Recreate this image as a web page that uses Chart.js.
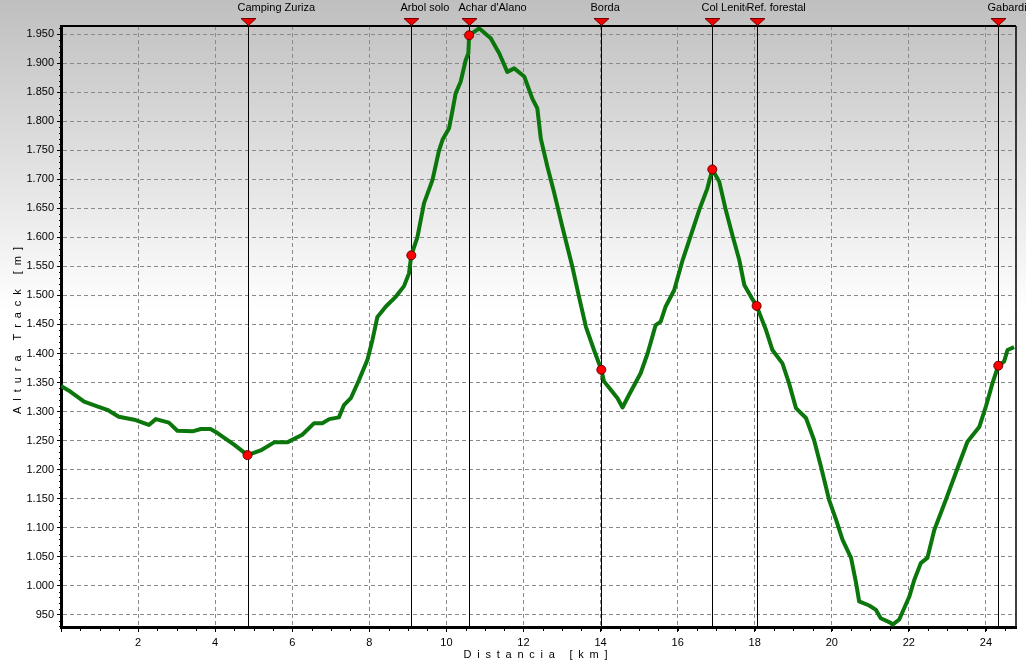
<!DOCTYPE html>
<html>
<head>
<meta charset="utf-8">
<script src="https://cdn.jsdelivr.net/npm/chart.js@4/dist/chart.umd.min.js"></script>
<style>
  html, body { margin: 0; padding: 0; background: #fff; }
  #wrap { width: 1026px; height: 662px; }
</style>
</head>
<body>
<div id="wrap"><canvas id="chart" width="1026" height="662"></canvas></div>
<script>
// ---------------------------------------------------------------------------
// Track profile data (distance in km, elevation in m)
// ---------------------------------------------------------------------------

var distKm = [0.00, 0.25, 0.60, 0.94, 1.20, 1.50, 1.90, 2.28, 2.46, 2.80, 3.02, 3.41, 3.63, 3.88, 4.06, 4.49, 4.84,
  5.18, 5.53, 5.87, 6.26, 6.57, 6.78, 6.96, 7.21, 7.34, 7.52, 7.73, 7.95, 8.08, 8.21, 8.43, 8.69, 8.90, 9.03, 9.09,
  9.25, 9.42, 9.64, 9.81, 9.90, 10.07, 10.16, 10.24, 10.37, 10.50, 10.57, 10.59, 10.85, 11.15, 11.37, 11.58, 11.76,
  12.02, 12.23, 12.36, 12.45, 12.62, 12.80, 13.01, 13.27, 13.44, 13.62, 13.83, 14.02, 14.09, 14.27, 14.44, 14.57,
  14.74, 15.04, 15.22, 15.43, 15.56, 15.69, 15.91, 16.13, 16.30, 16.56, 16.77, 16.90, 17.08, 17.25, 17.42, 17.60,
  17.73, 17.90, 18.05, 18.29, 18.46, 18.72, 18.89, 19.07, 19.33, 19.54, 19.72, 19.93, 20.11, 20.28, 20.50, 20.63,
  20.71, 20.97, 21.14, 21.27, 21.53, 21.58, 21.75, 22.01, 22.14, 22.31, 22.48, 22.66, 22.96, 23.31, 23.52, 23.83,
  24.00, 24.17, 24.32, 24.47, 24.56, 24.73];

var elevM = [1344, 1334, 1317, 1309, 1303, 1291, 1286, 1277, 1287, 1281, 1267, 1266, 1270, 1270, 1263, 1243, 1225,
  1233, 1247, 1247, 1260, 1280, 1280, 1287, 1290, 1311, 1323, 1354, 1389, 1423, 1463, 1481, 1498, 1516, 1538, 1569,
  1601, 1659, 1699, 1750, 1768, 1788, 1819, 1848, 1868, 1905, 1917, 1948, 1960, 1943, 1917, 1885, 1891,
  1877, 1839, 1822, 1770, 1722, 1676, 1618, 1549, 1498, 1446, 1406, 1372, 1352, 1337, 1323, 1307,
  1329, 1366, 1400, 1449, 1455, 1481, 1509, 1561, 1595, 1647, 1684, 1717, 1696, 1647, 1604, 1561,
  1518, 1498, 1482, 1441, 1406, 1383, 1349, 1306, 1289, 1251, 1205, 1148, 1114, 1079, 1048, 1005,
  973, 966, 959, 944, 936, 933, 942, 981, 1010, 1039, 1048, 1096, 1148, 1211, 1248, 1274,
  1309, 1349, 1379, 1386, 1406, 1411];

// Waypoints
var wpNames = ['Camping Zuriza', 'Arbol solo', "Achar d'Alano", 'Borda', 'Col Lenito', 'Ref. forestal', 'Gabardito'];
var wpKm = [4.84, 9.09, 10.59, 14.02, 16.90, 18.05, 24.32];
var wpElev = [1225, 1569, 1948, 1372, 1717, 1482, 1379];

// Axis settings
var xMin = 0, xMax = 24.78, xStep = 2;
var yMin = 929, yMax = 1964, yStep = 50;

var FAMILY = '"Liberation Sans", Arial, sans-serif';
var FONT = '11px ' + FAMILY;

// ---------------------------------------------------------------------------
// Helpers
// ---------------------------------------------------------------------------

function fmtElev(v) {
  if (v >= 1000) {
    return Math.floor(v / 1000) + '.' + String(v % 1000).padStart(3, '0');
  }
  return String(v);
}

var bgGrad = null;
function getBg(ctx, h) {
  if (!bgGrad) {
    bgGrad = ctx.createLinearGradient(0, 0, 0, h);
    bgGrad.addColorStop(0, '#bfbfbf');
    bgGrad.addColorStop(0.47, '#ffffff');
    bgGrad.addColorStop(1, '#ffffff');
  }
  return bgGrad;
}

// draw text with extra space between letters, centred on cx
function spacedText(ctx, txt, cx, cy, extra) {
  var w = 0, i;
  for (i = 0; i < txt.length; i++) w += ctx.measureText(txt[i]).width + extra;
  w -= extra;
  var x = cx - w / 2;
  ctx.textAlign = 'left';
  for (i = 0; i < txt.length; i++) {
    ctx.fillText(txt[i], x, cy);
    x += ctx.measureText(txt[i]).width + extra;
  }
}

// ---------------------------------------------------------------------------
// Plugin: background, borders, waypoint lines/markers, axis titles
// ---------------------------------------------------------------------------

var profilePlugin = {
  id: 'profile',
  beforeDraw: function(chart) {
    var ctx = chart.ctx;
    ctx.save();
    ctx.fillStyle = getBg(ctx, chart.height);
    ctx.fillRect(0, 0, chart.width, chart.height);
    ctx.restore();
  },
  beforeDatasetsDraw: function(chart) {
    var ctx = chart.ctx, a = chart.chartArea, xs = chart.scales.x;
    ctx.save();
    ctx.strokeStyle = '#000';
    ctx.lineWidth = 1;
    wpKm.forEach(function(k) {
      var px = Math.round(xs.getPixelForValue(k)) + 0.5;
      ctx.beginPath();
      ctx.moveTo(px, a.top);
      ctx.lineTo(px, a.bottom);
      ctx.stroke();
    });
    ctx.restore();
  },
  afterDraw: function(chart) {
    var ctx = chart.ctx, a = chart.chartArea, xs = chart.scales.x, ys = chart.scales.y;
    ctx.save();

    // top and right frame
    ctx.strokeStyle = '#000';
    ctx.lineWidth = 2;
    ctx.beginPath();
    ctx.moveTo(a.left, a.top);
    ctx.lineTo(a.right, a.top);
    ctx.stroke();
    ctx.lineWidth = 1.5;
    ctx.beginPath();
    ctx.moveTo(a.right, a.top);
    ctx.lineTo(a.right, a.bottom);
    ctx.stroke();

    // minor ticks: x every 0.5 km, y every 10 m
    ctx.lineWidth = 1;
    for (var k = 0.5; k < xMax; k += 0.5) {
      var mx = Math.round(xs.getPixelForValue(k)) + 0.5;
      ctx.beginPath();
      ctx.moveTo(mx, a.bottom);
      ctx.lineTo(mx, a.bottom + 4);
      ctx.stroke();
    }
    for (var m = 930; m < yMax; m += 10) {
      if (m % 50 === 0) continue;
      var my = Math.round(ys.getPixelForValue(m)) + 0.5;
      ctx.beginPath();
      ctx.moveTo(a.left - 2, my);
      ctx.lineTo(a.left, my);
      ctx.stroke();
    }

    // waypoint labels and triangles
    ctx.font = FONT;
    ctx.textBaseline = 'middle';
    ctx.textAlign = 'left';
    wpKm.forEach(function(k, i) {
      var px = Math.round(xs.getPixelForValue(k)) + 0.5;
      var tx = px - 11;
      var w = ctx.measureText(wpNames[i]).width;
      ctx.fillStyle = getBg(ctx, chart.height);
      ctx.fillRect(tx, 1, w + 2, 13);
      ctx.fillStyle = '#000';
      ctx.fillText(wpNames[i], tx, 7.5);

      ctx.beginPath();
      ctx.moveTo(px - 7.5, 18.5);
      ctx.lineTo(px + 7.5, 18.5);
      ctx.lineTo(px, a.top - 0.5);
      ctx.closePath();
      ctx.fillStyle = '#ee0000';
      ctx.fill();
      ctx.strokeStyle = '#700000';
      ctx.lineWidth = 1;
      ctx.stroke();
    });

    // axis titles
    ctx.fillStyle = '#000';
    spacedText(ctx, 'D i s t a n c i a   [ k m ]', (a.left + a.right) / 2 - 3, 655, 1.35);
    ctx.translate(18, (a.top + a.bottom) / 2 + 4);
    ctx.rotate(-Math.PI / 2);
    spacedText(ctx, 'A l t u r a   T r a c k   [ m ]', 0, 0, 1.45);
    ctx.restore();
  }
};

// ---------------------------------------------------------------------------
// Build the chart
// ---------------------------------------------------------------------------

var profilePts = distKm.map(function(d, i) { return { x: d, y: elevM[i] }; });
var wpPts = wpKm.map(function(d, i) { return { x: d, y: wpElev[i] }; });

var ctx = document.getElementById('chart').getContext('2d');

var chart = new Chart(ctx, {
  type: 'line',
  data: {
    datasets: [{
      label: 'Waypoints',
      data: wpPts,
      showLine: false,
      pointRadius: 4.5,
      pointBackgroundColor: '#ff0000',
      pointBorderColor: '#6a0000',
      pointBorderWidth: 1,
      order: 0
    }, {
      label: 'Altura',
      data: profilePts,
      borderColor: '#0b760b',
      borderWidth: 4,
      pointRadius: 0,
      tension: 0,
      fill: false,
      borderJoinStyle: 'round',
      order: 1
    }]
  },
  options: {
    responsive: false,
    animation: false,
    layout: { padding: { top: 26, right: 10, left: 0, bottom: 0 } },
    plugins: {
      legend: { display: false },
      tooltip: { enabled: false }
    },
    scales: {
      x: {
        type: 'linear',
        min: xMin,
        max: xMax,
        afterFit: function(s) { s.height = 35; },
        ticks: {
          stepSize: xStep,
          includeBounds: false,
          maxRotation: 0,
          autoSkip: false,
          padding: 4,
          color: '#000',
          font: { family: FAMILY, size: 11 },
          callback: function(v) { return v === 0 ? '' : String(v); }
        },
        grid: {
          color: '#8a8a8a',
          tickColor: '#000',
          tickLength: 5,
          tickBorderDash: []
        },
        border: { color: '#000', width: 3, dash: [4, 3] }
      },
      y: {
        min: yMin,
        max: yMax,
        afterFit: function(s) { s.width = 61; },
        ticks: {
          stepSize: yStep,
          includeBounds: false,
          padding: 3,
          color: '#000',
          font: { family: FAMILY, size: 11 },
          callback: function(v) { return fmtElev(v); }
        },
        grid: {
          color: '#8a8a8a',
          tickColor: '#000',
          tickLength: 4,
          tickBorderDash: []
        },
        border: { color: '#000', width: 3, dash: [4, 3] }
      }
    }
  },
  plugins: [profilePlugin]
});
</script>
</body>
</html>
